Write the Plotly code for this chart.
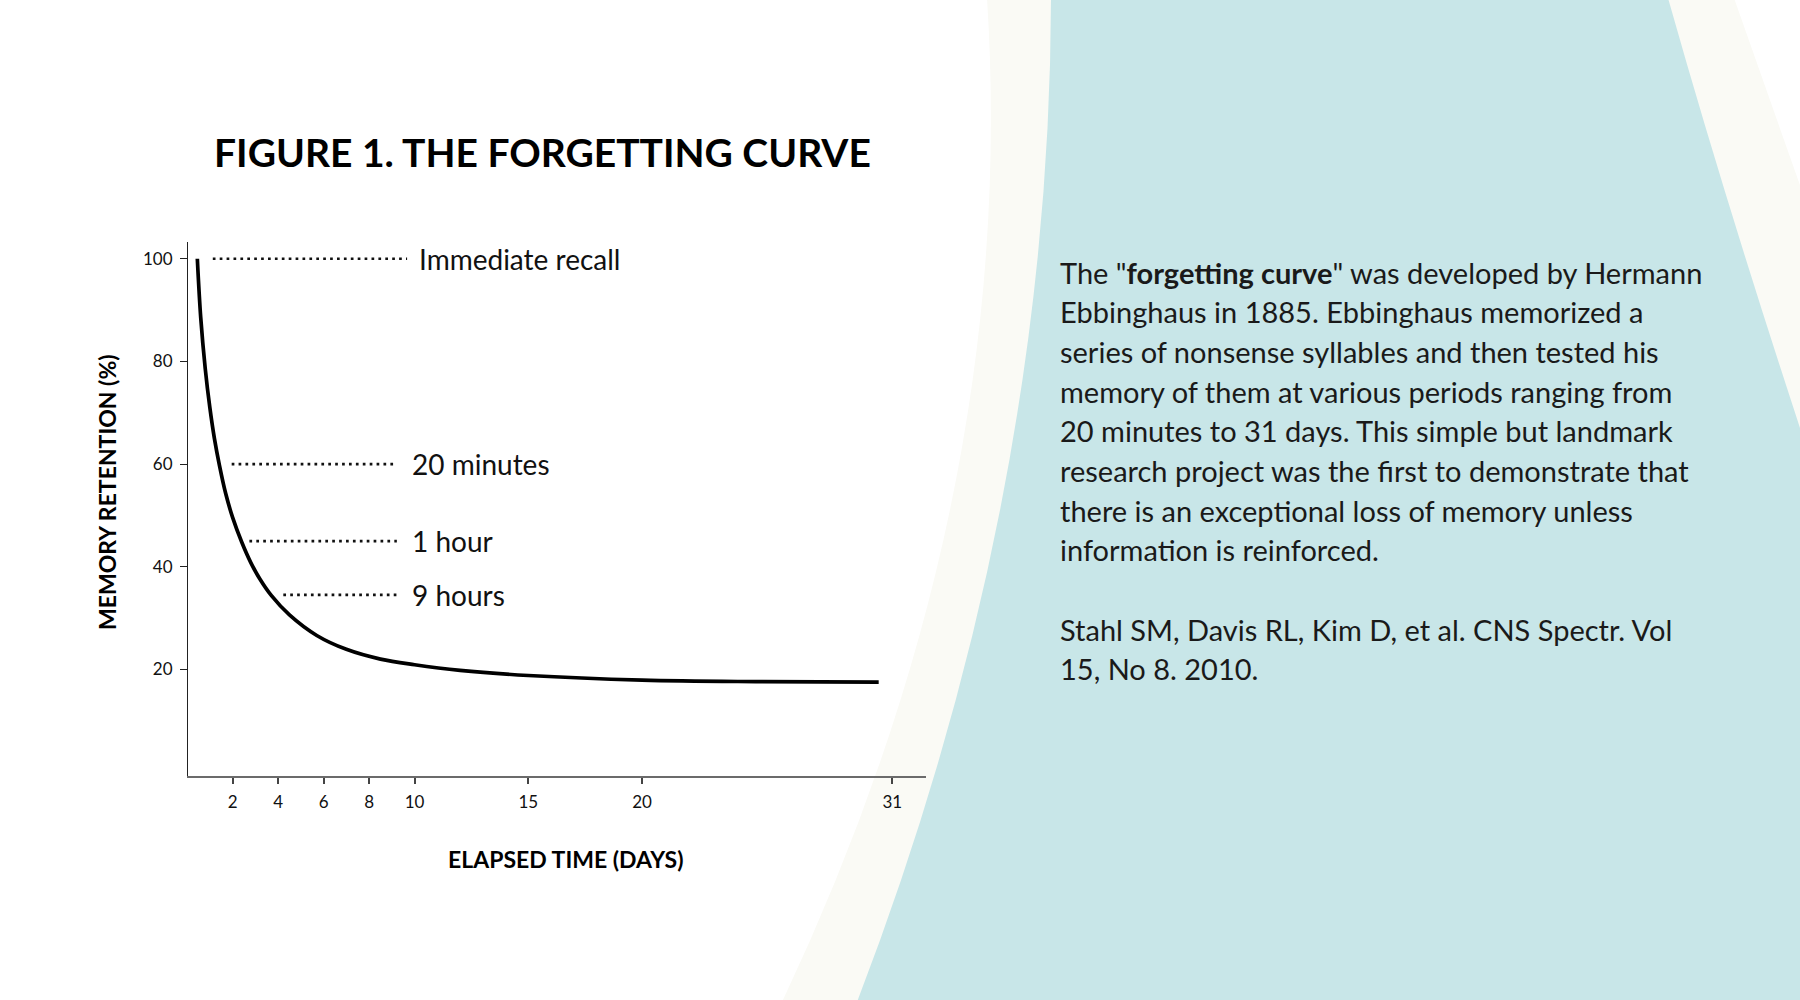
import plotly.graph_objects as go

# ---------------- data ----------------
days = [0.45, 0.6, 0.8, 1.0, 1.2, 1.42, 1.7, 2.0, 2.4, 2.8, 3.2, 3.7, 4.5,
        5.7, 7.0, 8.5, 10.0, 12.0, 15.0, 20.0, 25.0, 30.4]
retention = [100, 88.5, 78.5, 71, 65, 59.8, 54.2, 49.6, 44.8, 40.8, 37.6, 34.4, 30.6,
             26.6, 23.9, 22.0, 20.9, 19.8, 18.8, 17.9, 17.6, 17.5]

x_ticks = [2, 4, 6, 8, 10, 15, 20, 31]
y_ticks = [20, 40, 60, 80, 100]

marker_labels = ["Immediate recall", "20 minutes", "1 hour", "9 hours"]
marker_levels = [100, 60, 45, 34.5]
marker_start = [1.13, 1.96, 2.74, 4.23]
marker_end = [9.67, 9.14, 9.22, 9.29]
label_x = [10.1, 9.8, 9.8, 9.8]

title_text = "FIGURE 1. THE FORGETTING CURVE"
x_title = "ELAPSED TIME (DAYS)"
y_title = "MEMORY RETENTION (%)"

body_lines = [
    'The "<b>forgetting curve</b>" was developed by Hermann',
    "Ebbinghaus in 1885. Ebbinghaus memorized a",
    "series of nonsense syllables and then tested his",
    "memory of them at various periods ranging from",
    "20 minutes to 31 days. This simple but landmark",
    "research project was the first to demonstrate that",
    "there is an exceptional loss of memory unless",
    "information is reinforced.",
]
ref_lines = [
    "Stahl SM, Davis RL, Kim D, et al. CNS Spectr. Vol",
    "15, No 8. 2010.",
]

# ---------------- layout geometry (pixels) ----------------
W, H = 1800, 1000
L, R, T, B = 188, 874, 242, 224
PW, PH = W - L - R, H - T - B


def px(xp):
    return (xp - L) / PW


def py(yp):
    return 1 - (yp - T) / PH


FONT = "Lato, 'Open Sans', sans-serif"
TEAL = "#C8E6E8"
OFFWHITE = "#FAFAF5"

fig = go.Figure()

# forgetting curve
fig.add_trace(go.Scatter(
    x=days, y=retention, mode="lines",
    line=dict(color="#000000", width=3.7, shape="spline", smoothing=1.0),
    hoverinfo="skip", showlegend=False,
))

# dotted marker lines
for s, e, lv in zip(marker_start, marker_end, marker_levels):
    fig.add_trace(go.Scatter(
        x=[s, e], y=[lv, lv], mode="lines",
        line=dict(color="#111111", width=2.7, dash="2.7px,4.2px"),
        hoverinfo="skip", showlegend=False,
    ))

annotations = []
for lab, lx, lv in zip(marker_labels, label_x, marker_levels):
    annotations.append(dict(
        x=lx, y=lv, xref="x", yref="y", text=lab, showarrow=False,
        xanchor="left", yanchor="middle",
        font=dict(family=FONT, size=28, color="#111111"),
    ))

# title
annotations.append(dict(
    x=px(542), y=py(152), xref="paper", yref="paper",
    text="<b>" + title_text + "</b>", showarrow=False,
    xanchor="center", yanchor="middle",
    font=dict(family=FONT, size=39, color="#000000", weight=900),
))
# axis titles
annotations.append(dict(
    x=px(566), y=py(859), xref="paper", yref="paper",
    text="<b>" + x_title + "</b>", showarrow=False,
    xanchor="center", yanchor="middle",
    font=dict(family=FONT, size=23, color="#000000"),
))
annotations.append(dict(
    x=px(107), y=py(492), xref="paper", yref="paper",
    text="<b>" + y_title + "</b>", showarrow=False, textangle=-90,
    xanchor="center", yanchor="middle",
    font=dict(family=FONT, size=23, color="#000000"),
))

# body text
for i, line in enumerate(body_lines):
    annotations.append(dict(
        x=px(1058), y=py(272 + 39.7 * i), xref="paper", yref="paper",
        text=line, showarrow=False, xanchor="left", yanchor="middle",
        font=dict(family=FONT, size=29, color="#1a1a1a"),
    ))
for i, line in enumerate(ref_lines):
    annotations.append(dict(
        x=px(1058), y=py(629 + 39.7 * i), xref="paper", yref="paper",
        text=line, showarrow=False, xanchor="left", yanchor="middle",
        font=dict(family=FONT, size=29, color="#1a1a1a"),
    ))


def pth(points_cmds):
    out = []
    for cmd, pts in points_cmds:
        if cmd == "Z":
            out.append("Z")
            continue
        coords = " ".join(f"{px(a):.5f},{py(b):.5f}" for a, b in pts)
        out.append(f"{cmd} {coords}")
    return " ".join(out)


offwhite_path = pth([
    ("M", [(987, -2)]), ("Q", [(1019.5, 500), (782, 1002)]),
    ("L", [(1802, 1002)]), ("L", [(1802, 191)]), ("L", [(1734, -2)]), ("Z", []),
])
teal_path = pth([
    ("M", [(1051, -2)]), ("Q", [(1050, 500), (857, 1002)]),
    ("L", [(1802, 1002)]), ("L", [(1802, 434)]), ("Q", [(1725, 200), (1668, -2)]), ("Z", []),
])

shapes = [
    dict(type="path", path=offwhite_path, xref="paper", yref="paper",
         fillcolor=OFFWHITE, line=dict(width=0), layer="below"),
    dict(type="path", path=teal_path, xref="paper", yref="paper",
         fillcolor=TEAL, line=dict(width=0), layer="below"),
]

fig.update_layout(
    width=W, height=H,
    margin=dict(l=L, r=R, t=T, b=B, pad=0, autoexpand=False),
    paper_bgcolor="#FFFFFF", plot_bgcolor="rgba(0,0,0,0)",
    showlegend=False,
    annotations=annotations, shapes=shapes,
    font=dict(family=FONT, color="#111111"),
)
fig.update_xaxes(
    range=[0.04, 32.48], tickmode="array", tickvals=x_ticks,
    ticktext=[str(v) for v in x_ticks],
    showgrid=False, zeroline=False, showline=True, linecolor="#6b6b6b", linewidth=2,
    ticks="outside", ticklen=6, tickwidth=2, tickcolor="#444444",
    tickfont=dict(family=FONT, size=17, color="#111111"), ticklabelstandoff=4,
)
fig.update_yaxes(
    range=[-0.78, 103.26], tickmode="array", tickvals=y_ticks,
    ticktext=[str(v) for v in y_ticks],
    showgrid=False, zeroline=False, showline=True, linecolor="#222222", linewidth=1.2,
    ticks="outside", ticklen=7, tickwidth=1.2, tickcolor="#222222",
    tickfont=dict(family=FONT, size=17, color="#111111"), ticklabelstandoff=4,
)

fig.write_html(
    "out.html",
    config={"displayModeBar": False},
    post_script="document.body.style.margin='0px';document.body.style.overflow='hidden';",
)
